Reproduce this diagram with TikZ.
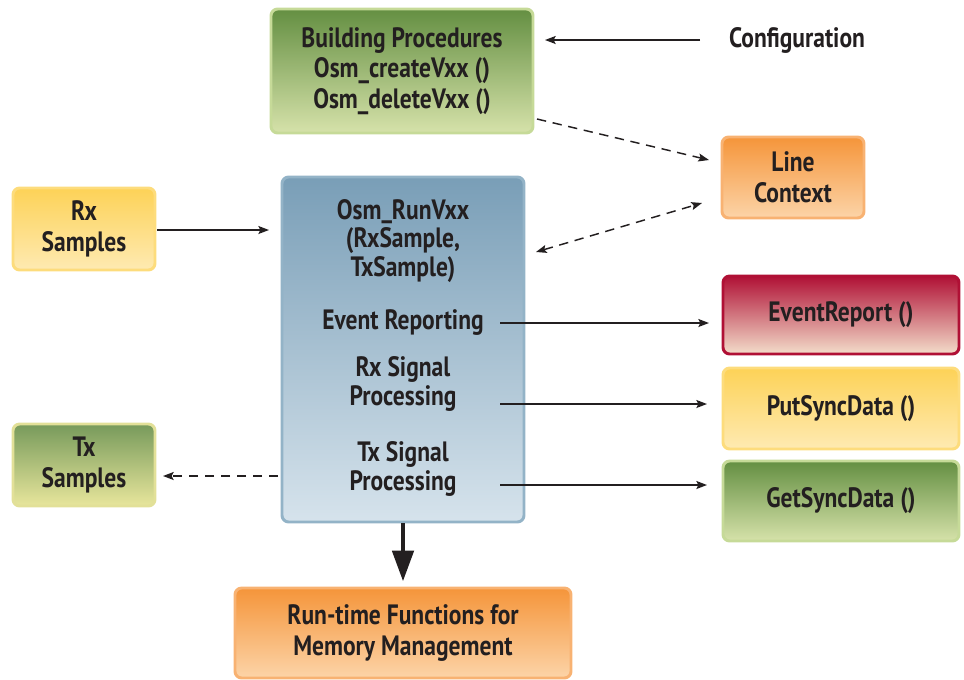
\documentclass[tikz,border=0pt]{standalone}
\usepackage{fontspec}
\setmainfont{PT Sans}[FakeStretch=0.84]
\usetikzlibrary{arrows.meta}
\definecolor{txt}{HTML}{231F20}
\definecolor{gtop}{HTML}{648F42}
\definecolor{gbot}{HTML}{D6E2AA}
\definecolor{gbrd}{HTML}{C6DA98}
\definecolor{otop}{HTML}{F5953A}
\definecolor{obot}{HTML}{FCD4A8}
\definecolor{obrd}{HTML}{F8B272}
\definecolor{ytop}{HTML}{FDD257}
\definecolor{ybot}{HTML}{FEEAB2}
\definecolor{ybrd}{HTML}{FDDC7C}
\definecolor{rtop}{HTML}{B01035}
\definecolor{rbot}{HTML}{F3DDCA}
\definecolor{rbrd}{HTML}{B01035}
\definecolor{ttop}{HTML}{779A5B}
\definecolor{tbot}{HTML}{E8E69C}
\definecolor{tbrd}{HTML}{E2E098}
\definecolor{btop}{HTML}{799EB7}
\definecolor{bbot}{HTML}{D6E3EC}
\definecolor{bbrd}{HTML}{93B3C7}
\begin{document}
\begin{tikzpicture}[x=0.75pt,y=-0.75pt,
  box/.style={rounded corners=5pt, line width=2.2pt, align=center, text=txt,
    font=\fontsize{21}{23}\selectfont\bfseries, inner sep=0pt},
  lbl/.style={align=center, text=txt, font=\fontsize{21}{21.5}\selectfont\bfseries, inner sep=0pt},
  green/.style={box, draw=gbrd, top color=gtop, bottom color=gbot},
  orange/.style={box, draw=obrd, top color=otop, bottom color=obot},
  yellow/.style={box, draw=ybrd, top color=ytop, bottom color=ybot},
  red/.style={box, draw=rbrd, top color=rtop, bottom color=rbot},
  txbox/.style={box, draw=tbrd, top color=ttop, bottom color=tbot},
  blue/.style={box, draw=bbrd, top color=btop, bottom color=bbot},
  arr/.style={draw=txt, line width=1.1pt, -{Stealth[length=8pt,width=6pt,inset=1.5pt]}},
  darr/.style={arr, dash pattern=on 7pt off 5pt},
  bigarr/.style={draw=txt, line width=3pt, -{Triangle[length=23pt,width=16pt]}}
]
\useasboundingbox (0,0) rectangle (964,679);

\node[green, minimum width=196.5pt, minimum height=93pt] (bp) at (402,71)
  {Building Procedures\\Osm\_createVxx ()\\Osm\_deleteVxx ()};
\node[lbl] (cfg) at (797,40) {Configuration};
\node[orange, minimum width=106.5pt, minimum height=60.75pt] (lc) at (793,177.5) {Line\\Context};
\node[yellow, minimum width=106.5pt, minimum height=61.5pt] (rx) at (84,229) {Rx\\Samples};
\node[blue, minimum width=181.5pt, minimum height=258.75pt] (main) at (403,349.5) {};
\node[lbl] (m1) at (403,241) {Osm\raisebox{1.5pt}{\_}RunVxx\\(RxSample,\\TxSample)};
\node[lbl] (m2) at (403,323) {Event Reporting};
\node[lbl] (m3) at (403,384) {Rx Signal\\Processing};
\node[lbl] (m4) at (403,469) {Tx Signal\\Processing};
\node[red, minimum width=177pt, minimum height=58.5pt] (er) at (841,315) {EventReport ()};
\node[yellow, minimum width=177pt, minimum height=60.75pt] (put) at (841,408.5) {PutSyncData ()};
\node[green, minimum width=177pt, minimum height=60pt] (get) at (841,501) {GetSyncData ()};
\node[txbox, minimum width=106.5pt, minimum height=61.5pt] (tx) at (84,465) {Tx\\Samples};
\node[orange, minimum width=252pt, minimum height=67.5pt] (rt) at (403,633)
  {Run-time Functions for\\Memory Management};

\coordinate (c1) at (700,40);
\coordinate (c2) at (545,40);
\coordinate (d1) at (537,119);
\coordinate (d2) at (709,160);
\coordinate (e1) at (536,252);
\coordinate (e2) at (702,203);
\coordinate (r1) at (157,230);
\coordinate (r2) at (269,230);
\coordinate (s1) at (500,323);
\coordinate (s2) at (709,323);
\coordinate (p1) at (500,404);
\coordinate (p2) at (707,404);
\coordinate (q1) at (500,485);
\coordinate (q2) at (707,485);
\coordinate (t1) at (278,476);
\coordinate (t2) at (163,476);

\draw[arr] (c1) -- (c2);
\draw[darr] (d1) -- (d2);
\draw[darr, {Stealth[length=8pt,width=6pt,inset=1.5pt]}-{Stealth[length=8pt,width=6pt,inset=1.5pt]}] (e1) -- (e2);
\draw[arr] (r1) -- (r2);
\draw[arr] (s1) -- (s2);
\draw[arr] (p1) -- (p2);
\draw[arr] (q1) -- (q2);
\draw[darr] (t1) -- (t2);
\draw[bigarr] (main.south) -- ([yshift=4pt]rt.north);
\end{tikzpicture}
\end{document}
